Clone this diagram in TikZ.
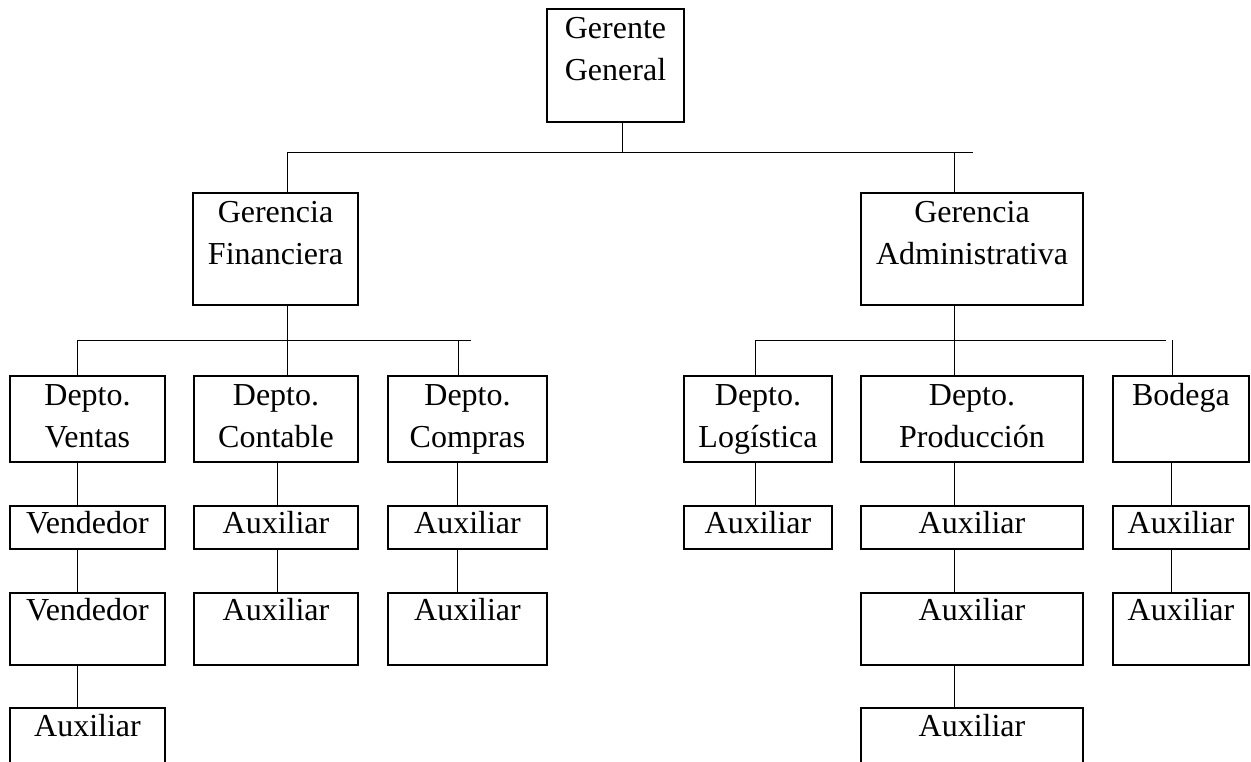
\documentclass[tikz,border=0pt]{standalone}
\usepackage{fontspec}
\setmainfont{Liberation Serif}
\tikzset{
  box/.style n args={3}{draw, line width=1.8pt, anchor=north, inner sep=0pt,
    text width=#1, text depth=#2, text height=#3, align=center,
    font=\fontsize{32pt}{41.5pt}\selectfont},
  link/.style={line width=1pt},
}
\begin{document}
\begin{tikzpicture}[x=1pt, y=-1pt]
  \clip (0,0) rectangle (1251,762);

  % top and managers
  \node[box={137pt}{83pt}{30pt}] (gg) at (615.5,8) {Gerente\\General};
  \node[box={165pt}{82pt}{30pt}] (gf) at (275.5,192) {Gerencia\\Financiera};
  \node[box={222pt}{82pt}{30pt}] (ga) at (972,192) {Gerencia\\Administrativa};

  % departments
  \node[box={155pt}{56pt}{30pt}] (dv) at (87.5,375) {Depto.\\Ventas};
  \node[box={164pt}{56pt}{30pt}] (dc) at (276,375) {Depto.\\Contable};
  \node[box={159pt}{56pt}{30pt}] (dco) at (467.5,375) {Depto.\\Compras};
  \node[box={148pt}{56pt}{30pt}] (dl) at (758,375) {Depto.\\Logística};
  \node[box={222pt}{56pt}{30pt}] (dp) at (972,375) {Depto.\\Producción};
  \node[box={136pt}{56pt}{30pt}] (db) at (1181,375) {Bodega};

  % staff
  \node[box={155pt}{15pt}{28pt}] (v1) at (87.5,505) {Vendedor};
  \node[box={164pt}{15pt}{28pt}] (c1) at (276,505) {Auxiliar};
  \node[box={159pt}{15pt}{28pt}] (co1) at (467.5,505) {Auxiliar};
  \node[box={148pt}{15pt}{28pt}] (l1) at (758,505) {Auxiliar};
  \node[box={222pt}{15pt}{28pt}] (p1) at (972,505) {Auxiliar};
  \node[box={136pt}{15pt}{28pt}] (b1) at (1181,505) {Auxiliar};

  \node[box={155pt}{44pt}{28pt}] (v2) at (87.5,592) {Vendedor};
  \node[box={164pt}{44pt}{28pt}] (c2) at (276,592) {Auxiliar};
  \node[box={159pt}{44pt}{28pt}] (co2) at (467.5,592) {Auxiliar};
  \node[box={222pt}{44pt}{28pt}] (p2) at (972,592) {Auxiliar};
  \node[box={136pt}{44pt}{28pt}] (b2) at (1181,592) {Auxiliar};

  \node[box={155pt}{43pt}{29pt}] (v3) at (87.5,707) {Auxiliar};
  \node[box={222pt}{43pt}{29pt}] (p3) at (972,707) {Auxiliar};

  % first bus
  \coordinate (g0) at (622,153);
  \coordinate (g1) at (287,153);
  \coordinate (g2) at (973,153);
  \coordinate (g3) at (954,153);
  \draw[link] (gg.south -| g0) -- (g0);
  \draw[link] (g1) -- (g2);
  \draw[link] (g1) -- (gf.north -| g1);
  \draw[link] (g3) -- (ga.north -| g3);

  % financiera bus
  \coordinate (f1) at (77,340);
  \coordinate (f2) at (471,340);
  \coordinate (f0) at (287,340);
  \coordinate (f3) at (458,340);
  \draw[link] (f1) -- (f2);
  \draw[link] (gf.south -| f0) -- (dc.north -| f0);
  \draw[link] (f1) -- (dv.north -| f1);
  \draw[link] (f3) -- (dco.north -| f3);

  % administrativa bus
  \coordinate (a1) at (755,340);
  \coordinate (a2) at (1166,340);
  \coordinate (a0) at (954,340);
  \coordinate (a3) at (1172,340);
  \draw[link] (a1) -- (a2);
  \draw[link] (ga.south -| a0) -- (dp.north -| a0);
  \draw[link] (a1) -- (dl.north -| a1);
  \draw[link] (a3) -- (db.north -| a3);

  % columns
  \foreach \a/\b/\s in {dv/v1/-10.5, v1/v2/-10.5, v2/v3/-10.5, dc/c1/1, c1/c2/1,
      dco/co1/-10.5, co1/co2/-10.5, dl/l1/-3, dp/p1/-18, p1/p2/-18, p2/p3/-18,
      db/b1/-10, b1/b2/-10}
    \draw[link] ([xshift=\s pt]\a.south) -- ([xshift=\s pt]\b.north);
\end{tikzpicture}
\end{document}
